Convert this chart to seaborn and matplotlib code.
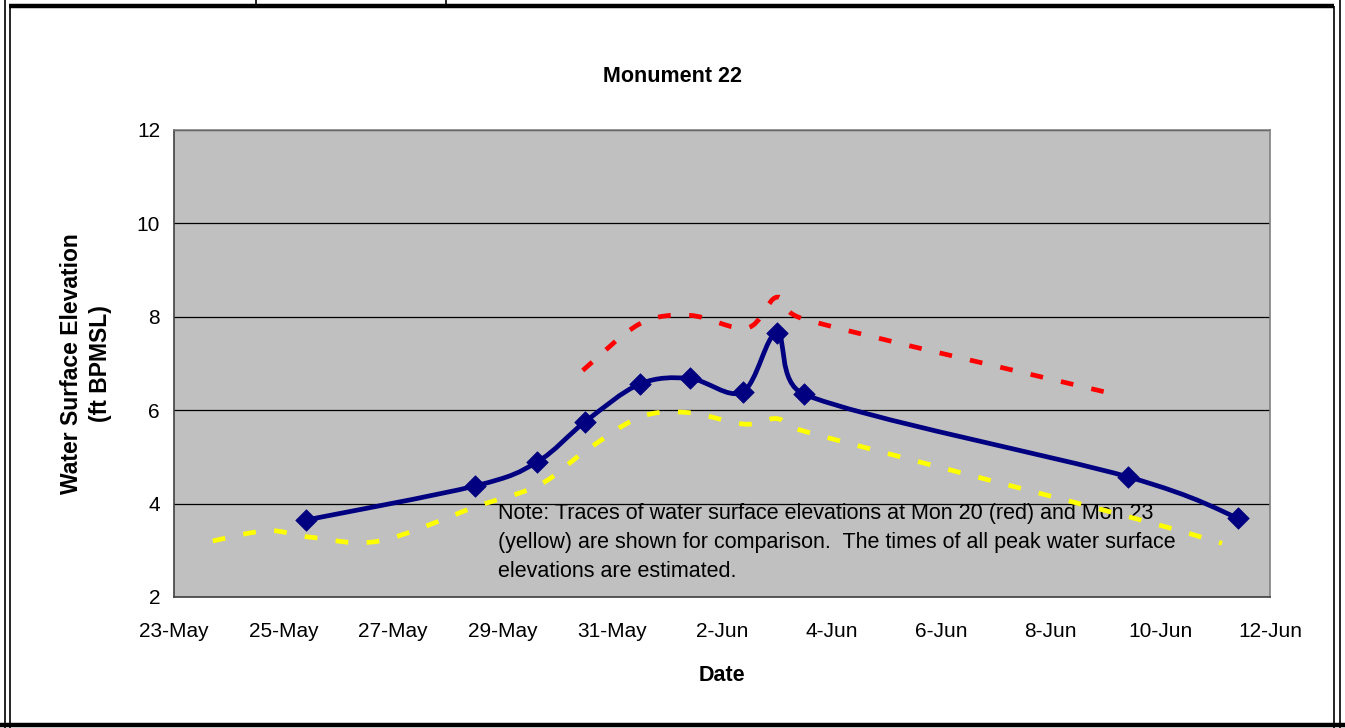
import numpy as np
import pandas as pd
import matplotlib
matplotlib.use("Agg")
import matplotlib.pyplot as plt
import matplotlib.dates as mdates
from matplotlib.path import Path
from matplotlib.patches import PathPatch
from matplotlib.lines import Line2D
import seaborn as sns

# Monument 22 (blue, measured)
mon22_time = ["2007-05-25 10:00", "2007-05-28 12:00", "2007-05-29 15:00", "2007-05-30 12:00",
              "2007-05-31 12:00", "2007-06-01 10:00", "2007-06-02 09:00", "2007-06-03 00:00",
              "2007-06-03 12:00", "2007-06-09 10:00", "2007-06-11 10:00"]
mon22_elev = [3.65, 4.38, 4.89, 5.75, 6.56, 6.68, 6.39, 7.65, 6.34, 4.57, 3.69]

# Mon 20 trace (red)
mon20_time = ["2007-05-30 11:00", "2007-05-31 12:00", "2007-06-01 10:00", "2007-06-02 11:00",
              "2007-06-03 00:00", "2007-06-03 12:00", "2007-06-09 05:00"]
mon20_elev = [6.85, 7.85, 8.03, 7.76, 8.42, 7.95, 6.33]

# Mon 23 trace (yellow)
mon23_time = ["2007-05-23 17:00", "2007-05-24 17:00", "2007-05-25 12:00", "2007-05-26 18:00",
              "2007-05-28 12:00", "2007-05-29 16:00", "2007-05-30 12:00", "2007-05-31 12:00",
              "2007-06-01 09:00", "2007-06-02 10:00", "2007-06-03 00:00", "2007-06-03 12:00",
              "2007-06-09 10:00", "2007-06-11 03:00"]
mon23_elev = [3.20, 3.42, 3.28, 3.20, 3.93, 4.40, 5.12, 5.85, 5.95, 5.70, 5.82, 5.55, 3.72, 3.15]

note = ("Note: Traces of water surface elevations at Mon 20 (red) and Mon 23\n"
        "(yellow) are shown for comparison.  The times of all peak water surface\n"
        "elevations are estimated.")


def smooth_path(times, vals):
    # Excel style smoothed line: cubic bezier segments through the points,
    # tangents shortened so a segment never loops back in x
    x = mdates.date2num(pd.to_datetime(times))
    pts = np.column_stack([x, vals])
    n = len(pts)
    verts = [pts[0]]
    codes = [Path.MOVETO]
    for i in range(n - 1):
        p0 = pts[i - 1] if i > 0 else pts[i]
        p1 = pts[i]
        p2 = pts[i + 1]
        p3 = pts[i + 2] if i + 2 < n else pts[i + 1]
        seg = p2[0] - p1[0]
        t1 = (p2 - p0) / 6
        t2 = (p3 - p1) / 6
        if t1[0] > seg:
            t1 = t1 * seg / t1[0]
        if t2[0] > seg:
            t2 = t2 * seg / t2[0]
        verts += [p1 + t1, p2 - t2, p2]
        codes += [Path.CURVE4] * 3
    return Path(verts, codes)


sns.set_style("white")
plt.rcParams["font.family"] = ["Liberation Sans", "DejaVu Sans"]
plt.rcParams["text.color"] = "black"
plt.rcParams["axes.labelcolor"] = "black"

W, H = 1345, 728
fig = plt.figure(figsize=(W / 100, H / 100), dpi=100)
ax = fig.add_axes([174 / W, 1 - 597 / H, 1096 / W, 467 / H])
ax.set_facecolor("#C0C0C0")

df = pd.DataFrame({"Date": pd.to_datetime(mon22_time), "Elev": mon22_elev})

ax.add_patch(PathPatch(smooth_path(mon20_time, mon20_elev), fill=False, edgecolor="#FF0000",
                       lw=3.4, linestyle=(0, (2.7, 3.9)), capstyle="butt", zorder=2))
ax.add_patch(PathPatch(smooth_path(mon23_time, mon23_elev), fill=False, edgecolor="#FFFF00",
                       lw=3.4, linestyle=(0, (2.7, 3.9)), capstyle="butt", zorder=2))
ax.add_patch(PathPatch(smooth_path(mon22_time, mon22_elev), fill=False, edgecolor="#000080",
                       lw=3.4, zorder=3))
sns.scatterplot(data=df, x="Date", y="Elev", marker="D", s=120, color="#000080",
                edgecolor="#000080", linewidth=0.5, zorder=4, ax=ax)

ax.set_xlim(pd.Timestamp("2007-05-23"), pd.Timestamp("2007-06-12"))
ax.set_ylim(2, 12)
ax.set_yticks([2, 4, 6, 8, 10, 12])
xt = pd.date_range("2007-05-23", "2007-06-12", freq="2D")
ax.set_xticks(xt)
ax.set_xticklabels([f"{d.day}-{d.strftime('%b')}" for d in xt])
ax.tick_params(axis="both", direction="out", length=6, width=1, color="black",
               labelsize=15, labelcolor="black")
ax.tick_params(axis="x", pad=12)
ax.tick_params(axis="y", pad=4)

ax.grid(axis="y", color="black", lw=0.9)
ax.grid(axis="x", visible=False)
ax.set_axisbelow(True)
for side in ["left", "bottom"]:
    ax.spines[side].set_color("#404040")
    ax.spines[side].set_linewidth(1.2)
for side in ["top", "right"]:
    ax.spines[side].set_color("#808080")
    ax.spines[side].set_linewidth(1.2)

ax.set_xlabel("Date", fontsize=15.5, fontweight="bold", labelpad=17)
ax.set_ylabel("Water Surface Elevation\n(ft BPMSL)", fontsize=16.5, fontweight="bold",
              labelpad=18, linespacing=1.3)
fig.text(0.5, 1 - 77 / H, "Monument 22", ha="center", va="center", fontsize=15.5,
         fontweight="bold")

# note sits under the traces, as in the original
ax.text((498 - 174) / 1096, (597 - 503) / 467, note, transform=ax.transAxes, ha="left",
        va="top", fontsize=15.5, linespacing=1.5, zorder=1.5)

# page frame around the chart
def fline(xs, ys, lw):
    fig.add_artist(Line2D([x / W for x in xs], [1 - y / H for y in ys], color="black",
                          lw=lw, transform=fig.transFigure, solid_capstyle="butt"))

fline([4.5, 4.5], [0, H], 1.2)
fline([9.5, 9.5], [6, H], 1.2)
fline([1333.5, 1333.5], [6, H], 1.2)
fline([1339.5, 1339.5], [0, H], 1.2)
fline([9, 1334], [6, 6], 3.2)
fline([0, W], [724.5, 724.5], 3.2)
fline([256, 256], [0, 5], 1.2)
fline([446, 446], [0, 5], 1.2)

fig.savefig("out.png", dpi=100)
